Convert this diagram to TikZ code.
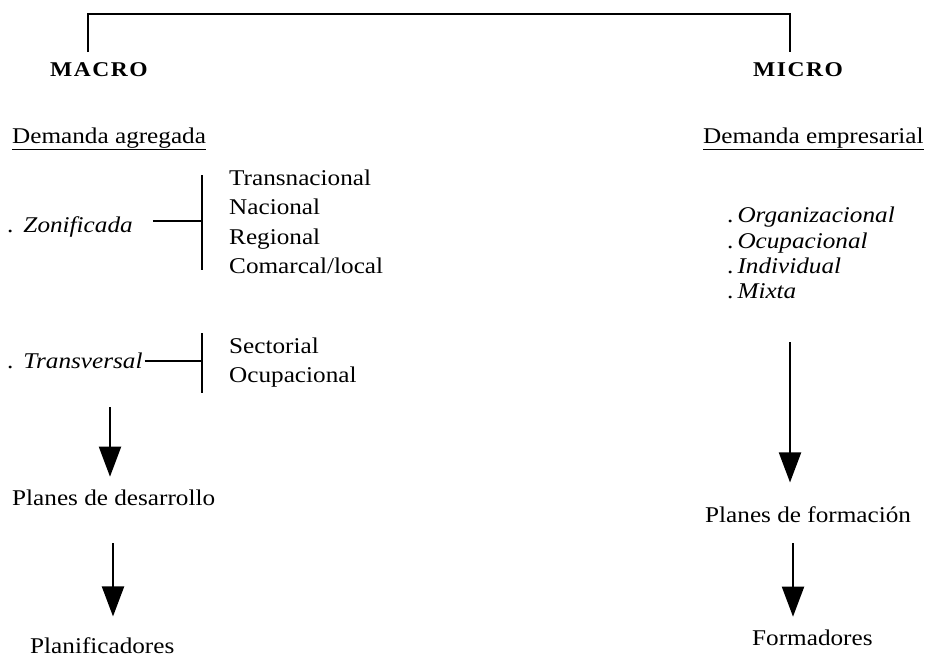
\documentclass[tikz,border=0pt]{standalone}
\usepackage{fontspec}
\setmainfont{Liberation Serif}[FakeStretch=1.12]
\usetikzlibrary{arrows.meta}
\begin{document}
\begin{tikzpicture}[x=1pt,y=-1pt,
  txt/.style={anchor=base west,inner sep=0pt,font=\fontsize{22.5}{27}\selectfont},
  head/.style={anchor=base west,inner sep=0pt,font=\fontsize{21}{25}\selectfont\bfseries},
  rule/.style={line width=2pt},
  flow/.style={line width=2pt,-{Triangle[length=30pt,width=22pt]}}]
\useasboundingbox (0,0) rectangle (928,664);

% headings
\node[head] (macro) at (50,76) {M\kern1.5pt A\kern1.5pt C\kern1.5pt R\kern1.5pt O};
\node[head] (micro) at (753,76) {M\kern1.5pt I\kern1.5pt C\kern1.5pt R\kern1.5pt O};
\coordinate (tl) at (88,52);
\coordinate (tr) at (790,52);
\coordinate (ltop) at (88,14);
\coordinate (rtop) at (790,14);
\draw[rule,line width=2.3pt] (tl) -- (ltop) -- (rtop) -- (tr);

% macro side
\node[txt] (dag) at (12,143) {\underline{Demanda agregada}};
\node[txt] (zon) at (7,232) {.\hspace{10pt}\textit{Zonificada}};
\node[txt] (z1) at (229,185) {Transnacional};
\node[txt] (z2) at (229,214.5) {Nacional};
\node[txt] (z3) at (229,244) {Regional};
\node[txt] (z4) at (229,273) {Comarcal/local};
\coordinate (zbt) at (202,175);
\coordinate (zbb) at (202,270);
\coordinate (zbm) at (202,221);
\draw[rule] (zbt) -- (zbb);
\draw[rule,shorten <=20pt] (zon.east |- zbm) -- (zbm);

\node[txt] (tra) at (7,368) {.\hspace{10pt}\textit{Transversal}};
\node[txt] (t1) at (229,353) {Sectorial};
\node[txt] (t2) at (229,382) {Ocupacional};
\coordinate (tbt) at (202,333);
\coordinate (tbb) at (202,393);
\coordinate (tbm) at (202,361);
\draw[rule] (tbt) -- (tbb);
\draw[rule,shorten <=2pt] (tra.east |- tbm) -- (tbm);

\coordinate (la1) at (110,407);
\node[txt] (pd) at (12,505) {Planes de desarrollo};
\draw[flow,shorten >=12.5pt] (la1) -- (la1 |- pd.north);
\coordinate (la2) at (113,543);
\node[txt] (plf) at (30,653) {Planificadores};
\draw[flow,shorten >=20.5pt] (la2) -- (la2 |- plf.north);

% micro side
\node[txt] (dem) at (703,143) {\underline{Demanda empresarial}};
\node[txt] (m1) at (727,222) {.\hspace{4pt}\textit{Organizacional}};
\node[txt] (m2) at (727,248) {.\hspace{4pt}\textit{Ocupacional}};
\node[txt] (m3) at (727,273) {.\hspace{4pt}\textit{Individual}};
\node[txt] (m4) at (727,298) {.\hspace{4pt}\textit{Mixta}};

\coordinate (ra1) at (790,342);
\node[txt] (pf) at (705,522) {Planes de formación};
\draw[flow,shorten >=23.5pt] (ra1) -- (ra1 |- pf.north);
\coordinate (ra2) at (793,543);
\node[txt] (frm) at (752,645) {Formadores};
\draw[flow,shorten >=12.5pt] (ra2) -- (ra2 |- frm.north);
\end{tikzpicture}
\end{document}
